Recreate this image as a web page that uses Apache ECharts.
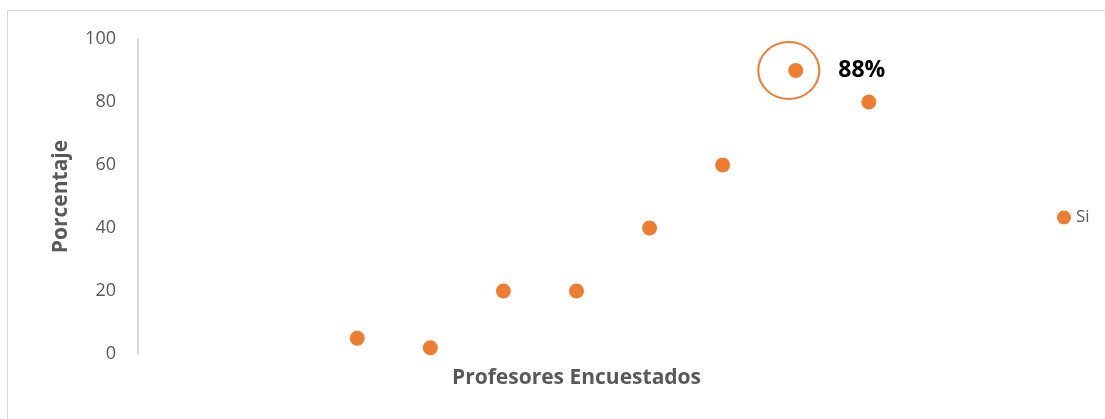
<!DOCTYPE html>
<html>
<head>
<meta charset="utf-8">
<script src="https://cdn.jsdelivr.net/npm/echarts@6/dist/echarts.min.js"></script>
<style>
html,body{margin:0;padding:0;background:#fff;}
#wrap{position:relative;width:1105px;height:419px;overflow:hidden;}
#frame{position:absolute;left:7px;top:10px;width:1110px;height:420px;border-top:1.5px solid #d9d9d9;border-left:1.5px solid #d9d9d9;box-sizing:border-box;}
#chart{position:absolute;left:0;top:0;width:1105px;height:419px;}
</style>
</head>
<body>
<div id="wrap"><div id="frame"></div><div id="chart"></div></div>
<script>
const seriesName = 'Si';
const xPositions = [3, 4, 5, 6, 7, 8, 9, 10];
const siValues = [5, 2, 20, 20, 40, 60, 90, 80];
const highlightIndex = 6;
const highlightLabel = '88%';
const yTicks = [0, 20, 40, 60, 80, 100];
const xTitle = 'Profesores Encuestados';
const yTitle = 'Porcentaje';

const orange = '#ED7D31';
const font = 'Open Sans';

const data = xPositions.map((x, i) => {
  const item = { value: [x, siValues[i]] };
  if (i === highlightIndex) {
    item.label = {
      show: true, position: 'right', distance: 35,
      formatter: highlightLabel, color: '#000', fontWeight: 'bold',
      fontSize: 23, fontFamily: font
    };
  }
  return item;
});

const chart = echarts.init(document.getElementById('chart'), null, { renderer: 'canvas' });
chart.setOption({
  animation: false,
  grid: { left: 138, right: 90, top: 39, bottom: 65, containLabel: false },
  legend: {
    data: [seriesName], orient: 'vertical', left: 1052, top: 204,
    icon: 'circle', itemWidth: 14, itemHeight: 14, itemGap: 4,
    textStyle: { color: '#595959', fontSize: 17, fontFamily: font }
  },
  xAxis: {
    type: 'value', min: 0, max: 12,
    name: xTitle, nameLocation: 'middle', nameGap: 14,
    nameTextStyle: { color: '#595959', fontSize: 21, fontWeight: 'bold', fontFamily: font },
    axisLine: { show: false }, axisTick: { show: false }, axisLabel: { show: false },
    splitLine: { show: false }
  },
  yAxis: {
    type: 'value', min: yTicks[0], max: yTicks[yTicks.length - 1], interval: 20,
    name: yTitle, nameLocation: 'middle', nameGap: 66, nameRotate: 90,
    nameTextStyle: { color: '#595959', fontSize: 21, fontWeight: 'bold', fontFamily: font },
    axisLine: { show: true, lineStyle: { color: '#d9d9d9', width: 2 } },
    axisTick: { show: false },
    axisLabel: { color: '#595959', fontSize: 18, fontFamily: font, margin: 22 },
    splitLine: { show: false }
  },
  series: [{
    name: seriesName, type: 'scatter', symbol: 'circle', symbolSize: 15,
    itemStyle: { color: orange, opacity: 1 },
    data: data,
    markPoint: {
      silent: true,
      symbol: 'circle', symbolSize: [61, 57], symbolOffset: [-7, 0],
      itemStyle: { color: 'rgba(0,0,0,0)', borderColor: orange, borderWidth: 2, opacity: 1 },
      label: { show: false },
      data: [{ coord: [xPositions[highlightIndex], siValues[highlightIndex]] }]
    }
  }]
});
</script>
</body>
</html>
